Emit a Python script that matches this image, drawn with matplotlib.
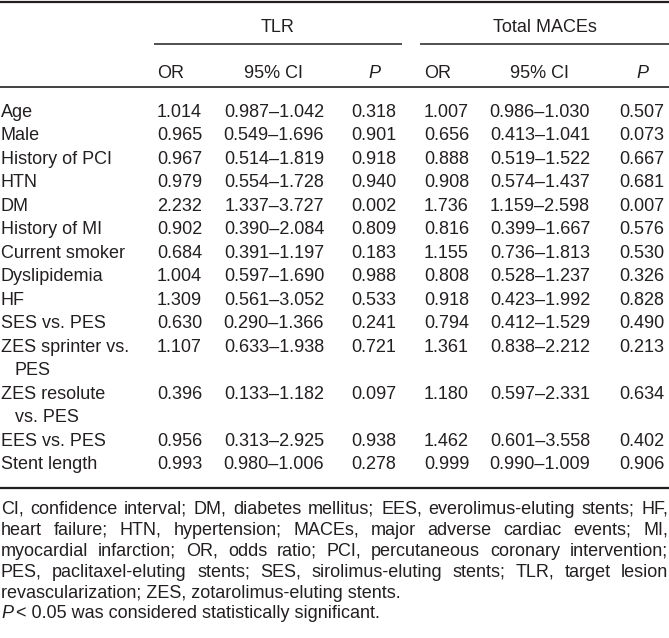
import matplotlib
matplotlib.use("Agg")
import matplotlib.pyplot as plt

# table data
labels = ["Age", "Male", "History of PCI", "HTN", "DM", "History of MI",
          "Current smoker", "Dyslipidemia", "HF", "SES vs. PES",
          "ZES sprinter vs.\nPES", "ZES resolute\nvs. PES", "EES vs. PES",
          "Stent length"]
tlr_or = [1.014, 0.965, 0.967, 0.979, 2.232, 0.902, 0.684, 1.004, 1.309,
          0.630, 1.107, 0.396, 0.956, 0.993]
tlr_lo = [0.987, 0.549, 0.514, 0.554, 1.337, 0.390, 0.391, 0.597, 0.561,
          0.290, 0.633, 0.133, 0.313, 0.980]
tlr_hi = [1.042, 1.696, 1.819, 1.728, 3.727, 2.084, 1.197, 1.690, 3.052,
          1.366, 1.938, 1.182, 2.925, 1.006]
tlr_p = [0.318, 0.901, 0.918, 0.940, 0.002, 0.809, 0.183, 0.988, 0.533,
         0.241, 0.721, 0.097, 0.938, 0.278]
mace_or = [1.007, 0.656, 0.888, 0.908, 1.736, 0.816, 1.155, 0.808, 0.918,
           0.794, 1.361, 1.180, 1.462, 0.999]
mace_lo = [0.986, 0.413, 0.519, 0.574, 1.159, 0.399, 0.736, 0.528, 0.423,
           0.412, 0.838, 0.597, 0.601, 0.990]
mace_hi = [1.030, 1.041, 1.522, 1.437, 2.598, 1.667, 1.813, 1.237, 1.992,
           1.529, 2.212, 2.331, 3.558, 1.009]
mace_p = [0.507, 0.073, 0.667, 0.681, 0.007, 0.576, 0.530, 0.326, 0.828,
          0.490, 0.213, 0.634, 0.402, 0.906]

groups = ["TLR", "Total MACEs"]
col_heads = ["OR", "95% CI", "P"]

footnote = [
    "CI, confidence interval; DM, diabetes mellitus; EES, everolimus-eluting stents; HF,",
    "heart failure; HTN, hypertension; MACEs, major adverse cardiac events; MI,",
    "myocardial infarction; OR, odds ratio; PCI, percutaneous coronary intervention;",
    "PES, paclitaxel-eluting stents; SES, sirolimus-eluting stents; TLR, target lesion",
    "revascularization; ZES, zotarolimus-eluting stents.",
]
sig_note = "< 0.05 was considered statistically significant."

W, H = 669, 638
FS = 13
INK = "#231f20"
plt.rcParams['font.family'] = ['Liberation Sans', 'DejaVu Sans']

fig = plt.figure(figsize=(W / 100, H / 100), dpi=100)
ax = fig.add_axes([0, 0, 1, 1])
ax.set_xlim(0, W)
ax.set_ylim(H, 0)
ax.axis('off')
renderer = fig.canvas.get_renderer()


def hline(y, x0, x1, lw):
    ax.plot([x0, x1], [y, y], color=INK, lw=lw, solid_capstyle='butt')


def txt(x, y, s, ha='left', **kw):
    return ax.text(x, y, s, ha=ha, va='baseline', fontsize=FS, color=INK, **kw)


def justify(line, y, x0, x1):
    words = line.split(" ")
    objs = [txt(0, y, w) for w in words]
    widths = [o.get_window_extent(renderer).width for o in objs]
    gap = (x1 - x0 - sum(widths)) / (len(words) - 1)
    x = x0
    for o, w in zip(objs, widths):
        o.set_x(x)
        x += w + gap


# rules
hline(1.5, 0, W, 1.6)
hline(87, 0, W, 1.2)
hline(488, 0, W, 1.6)

# group headers
group_x = [(154, 402), (420, W)]
for name, (x0, x1) in zip(groups, group_x):
    txt((x0 + x1) / 2, 32, name, ha='center')
    hline(44, x0, x1, 1.1)

# column positions: OR left aligned, CI and P centered
col_x = [[(157, 'left'), (274, 'center'), (374, 'center')],
         [(424, 'left'), (540, 'center'), (642, 'center')]]
for cols in col_x:
    for head, (x, ha) in zip(col_heads, cols):
        style = 'italic' if head == "P" else 'normal'
        txt(x, 78, head, ha=ha, fontstyle=style)

# body rows
y0, dy = 116.7, 23.5
line = 0
series = [(tlr_or, tlr_lo, tlr_hi, tlr_p), (mace_or, mace_lo, mace_hi, mace_p)]
for i, lab in enumerate(labels):
    y = y0 + dy * line
    parts = lab.split("\n")
    txt(1, y, parts[0])
    for k, p in enumerate(parts[1:]):
        txt(15, y + dy * (k + 1), p)
    for (o, lo, hi, p), cols in zip(series, col_x):
        vals = [f"{o[i]:.3f}", f"{lo[i]:.3f}\u2013{hi[i]:.3f}", f"{p[i]:.3f}"]
        for v, (x, ha) in zip(vals, cols):
            txt(x, y, v, ha=ha)
    line += len(parts)

# footnote
fy0, fdy = 514, 20.9
for k, s in enumerate(footnote):
    y = fy0 + fdy * k
    if k < len(footnote) - 1:
        justify(s, y, 1, W - 1)
    else:
        txt(1, y, s)
y = fy0 + fdy * len(footnote)
pt = txt(1, y, "P", fontstyle='italic')
wp = pt.get_window_extent(renderer).width
txt(1 + wp + 3, y, sig_note)

fig.savefig("out.png", dpi=100, facecolor='white')
